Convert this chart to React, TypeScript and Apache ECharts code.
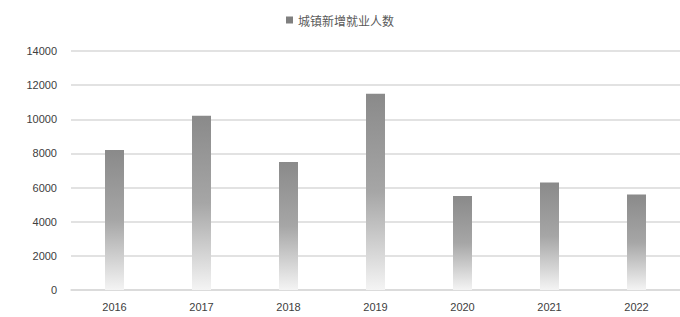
import React, { useEffect, useRef } from "react";
import * as echarts from "echarts";

const categories = ["2016", "2017", "2018", "2019", "2020", "2021", "2022"];
const seriesName = "城镇新增就业人数";
const values = [8200, 10200, 7500, 11500, 5500, 6300, 5600];

export default function App() {
  const ref = useRef<HTMLDivElement>(null);
  useEffect(() => {
    if (!ref.current) return;
    const chart = echarts.init(ref.current, undefined, { renderer: "svg" });
    chart.setOption({
      animation: false,
      backgroundColor: "#ffffff",
      legend: {
        top: 9,
        left: "center",
        itemWidth: 7,
        itemHeight: 7,
        itemGap: 4,
        icon: "rect",
        textStyle: { fontSize: 12, color: "#595959", fontFamily: "Noto Sans CJK SC" },
        data: [{ name: seriesName, itemStyle: { color: "#7f7f7f" } }],
      },
      grid: { left: 71, top: 51, width: 614, height: 239, containLabel: false },
      xAxis: {
        type: "category",
        data: categories,
        axisLine: { lineStyle: { color: "#d9d9d9", width: 1.5 } },
        axisTick: { show: false },
        axisLabel: { color: "#404040", fontSize: 11, margin: 11, fontFamily: "Liberation Sans" },
      },
      yAxis: {
        type: "value",
        min: 0,
        max: 14000,
        interval: 2000,
        axisLine: { show: false },
        axisTick: { show: false },
        splitLine: { lineStyle: { color: "#d9d9d9", width: 1.5 } },
        axisLabel: {
          color: "#404040",
          fontSize: 11,
          margin: 14,
          fontFamily: "Liberation Sans",
          formatter: (v: number) => String(v),
        },
      },
      series: [
        {
          name: seriesName,
          type: "bar",
          data: values,
          barWidth: 19,
          itemStyle: {
            color: new echarts.graphic.LinearGradient(0, 0, 0, 1, [
              { offset: 0, color: "#8a8a8a" },
              { offset: 0.5, color: "#a6a6a6" },
              { offset: 1, color: "#f4f4f4" },
            ]),
          },
        },
      ],
    });
    return () => chart.dispose();
  }, []);
  return <div ref={ref} style={{ width: 680, height: 317, position: "absolute", left: 0, top: 0 }} />;
}
